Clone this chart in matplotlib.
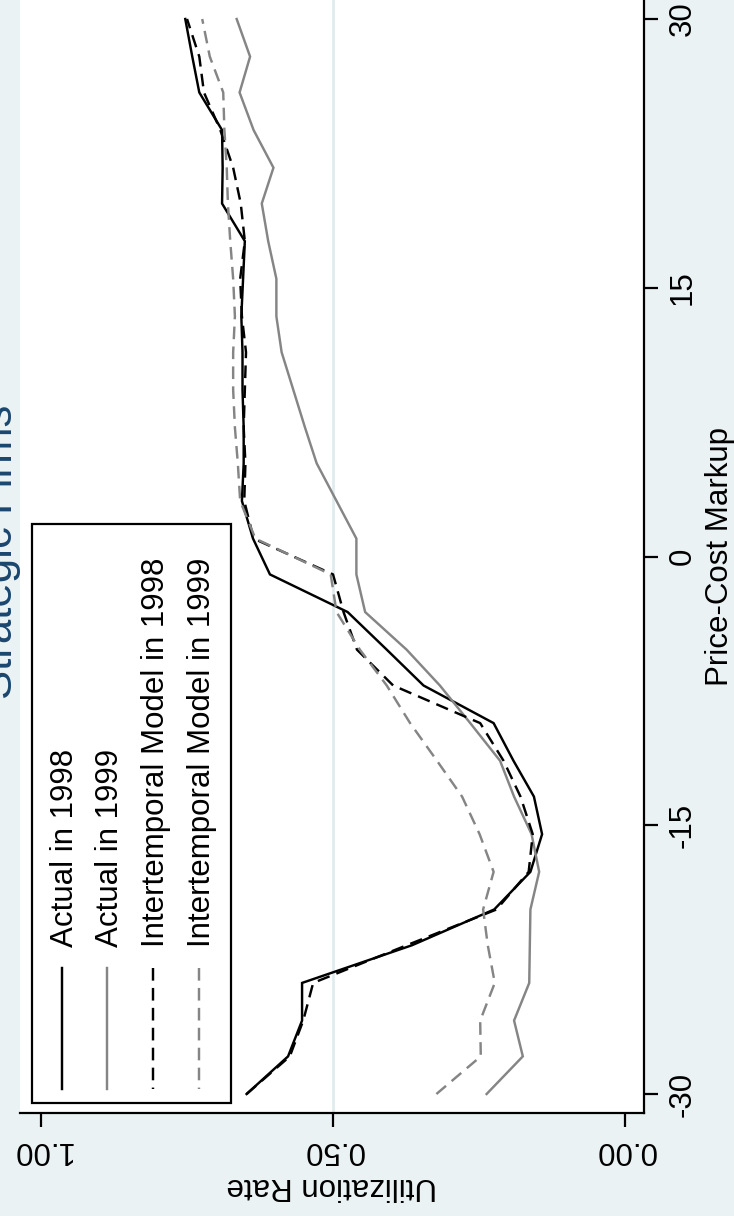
import matplotlib
matplotlib.use("Agg")
import matplotlib.pyplot as plt
from matplotlib.lines import Line2D
from matplotlib.patches import Rectangle

plt.rcParams['font.family'] = ['Liberation Sans', 'DejaVu Sans']

# ---------------- data ----------------
markup = [-30.0, -27.9, -25.9, -23.8, -21.7, -19.7, -17.6, -15.5, -13.4, -11.4,
          -9.3, -7.2, -5.2, -3.1, -1.0, 1.0, 3.1, 5.2, 7.2, 9.3,
          11.4, 13.4, 15.5, 17.6, 19.7, 21.7, 23.8, 25.9, 27.9, 30.0]

actual_1998 = [0.648, 0.577, 0.553, 0.553, 0.365, 0.224, 0.162, 0.142, 0.156, 0.191,
               0.225, 0.345, 0.408, 0.475, 0.608, 0.637, 0.656, 0.653, 0.653, 0.655,
               0.655, 0.657, 0.654, 0.651, 0.690, 0.689, 0.690, 0.729, 0.741, 0.753]

actual_1999 = [0.237, 0.175, 0.190, 0.164, 0.163, 0.162, 0.147, 0.160, 0.190, 0.214,
               0.265, 0.317, 0.374, 0.445, 0.460, 0.460, 0.494, 0.528, 0.548, 0.568,
               0.588, 0.597, 0.597, 0.611, 0.622, 0.602, 0.636, 0.660, 0.642, 0.665]

model_1998 = [0.648, 0.574, 0.551, 0.534, 0.374, 0.220, 0.165, 0.158, 0.179, 0.208,
              0.248, 0.397, 0.459, 0.482, 0.500, 0.636, 0.652, 0.650, 0.653, 0.651,
              0.649, 0.656, 0.659, 0.651, 0.658, 0.671, 0.693, 0.721, 0.729, 0.750]

model_1999 = [0.323, 0.247, 0.248, 0.223, 0.235, 0.243, 0.225, 0.249, 0.279, 0.322,
              0.368, 0.408, 0.454, 0.494, 0.504, 0.633, 0.659, 0.663, 0.668, 0.671,
              0.671, 0.668, 0.671, 0.676, 0.680, 0.682, 0.686, 0.688, 0.711, 0.724]

series_labels = ["Actual in 1998", "Actual in 1999",
                 "Intertemporal Model in 1998", "Intertemporal Model in 1999"]
util_ticks = [0.0, 0.5, 1.0]
util_ticklabels = ["0.00", "0.50", "1.00"]
markup_ticks = [-30, -15, 0, 15, 30]
title_text = "Strategic Firms"
xlab = "Price-Cost Markup"
ylab = "Utilization Rate"

# ---------------- style ----------------
W, H = 734, 1216
BG = '#eaf2f3'
NAVY = '#1a476f'
GRAY = '#858585'
FS = 22.5
LW = 1.75
dash = (0, (5.2, 3.0))
styles = [dict(color='black', ls='-', lw=LW),
          dict(color=GRAY, ls='-', lw=LW),
          dict(color='black', ls=dash, lw=LW),
          dict(color=GRAY, ls=dash, lw=LW)]

def P(x, y):
    return (x / W, 1 - y / H)

fig = plt.figure(figsize=(W / 100, H / 100), dpi=100, facecolor=BG)

# plot region: x 20..644 px, y 0..1113 px (rotated chart)
ax = fig.add_axes([20 / W, 1 - 1113 / H, (644 - 20) / W, 1113 / H])
ax.set_facecolor('white')
ax.set_xlim(1.036, -0.0325)
ax.set_ylim(-31.06, 31.06)

ax.axvline(0.5, color='#e1ebee', lw=2.0, zorder=0)

for vals, st in zip([actual_1998, actual_1999, model_1998, model_1999], styles):
    ax.plot(vals, markup, solid_joinstyle='miter', **st)

for s in ['left', 'top']:
    ax.spines[s].set_visible(False)
for s in ['bottom', 'right']:
    ax.spines[s].set_linewidth(1.6)

ax.yaxis.tick_right()
ax.yaxis.set_label_position('right')
ax.set_yticks(markup_ticks)
ax.set_yticklabels([str(t) for t in markup_ticks])
ax.tick_params(axis='y', length=10, width=1.6, pad=7, labelsize=FS, labelrotation=90)
for t in ax.get_yticklabels():
    t.set_va('center')

ax.set_xticks(util_ticks)
ax.set_xticklabels(util_ticklabels)
ax.tick_params(axis='x', length=10, width=1.6, pad=6, labelsize=FS, labelrotation=180)

ax.set_xlabel(ylab, fontsize=FS, rotation=180, labelpad=4)
ax.set_ylabel(xlab, fontsize=FS, rotation=90, labelpad=5)

# title (rotated, partially off the left edge as in the reference)
fig.text(12 / W, 1 - 552 / H, title_text, rotation=90, rotation_mode='anchor',
         ha='center', va='baseline', fontsize=31.5, color=NAVY)

# legend (manual, rotated)
fig.add_artist(Rectangle(P(32, 1103), (231 - 32) / W, (1103 - 524) / H,
                         transform=fig.transFigure, facecolor='white',
                         edgecolor='black', lw=1.6, zorder=5))
line_x = [62, 107, 153, 199]
text_x = [73, 118, 164, 210]
for lx, tx, lab, st in zip(line_x, text_x, series_labels, styles):
    x0, y0 = P(lx, 968)
    x1, y1 = P(lx, 1089)
    fig.add_artist(Line2D([x0, x1], [y0, y1], transform=fig.transFigure,
                          zorder=6, **st))
    fx, fy = P(tx, 947)
    fig.text(fx, fy, lab, rotation=90, rotation_mode='anchor', ha='left',
             va='baseline', fontsize=FS, zorder=6)

fig.savefig('out.png', dpi=100, facecolor=BG)
